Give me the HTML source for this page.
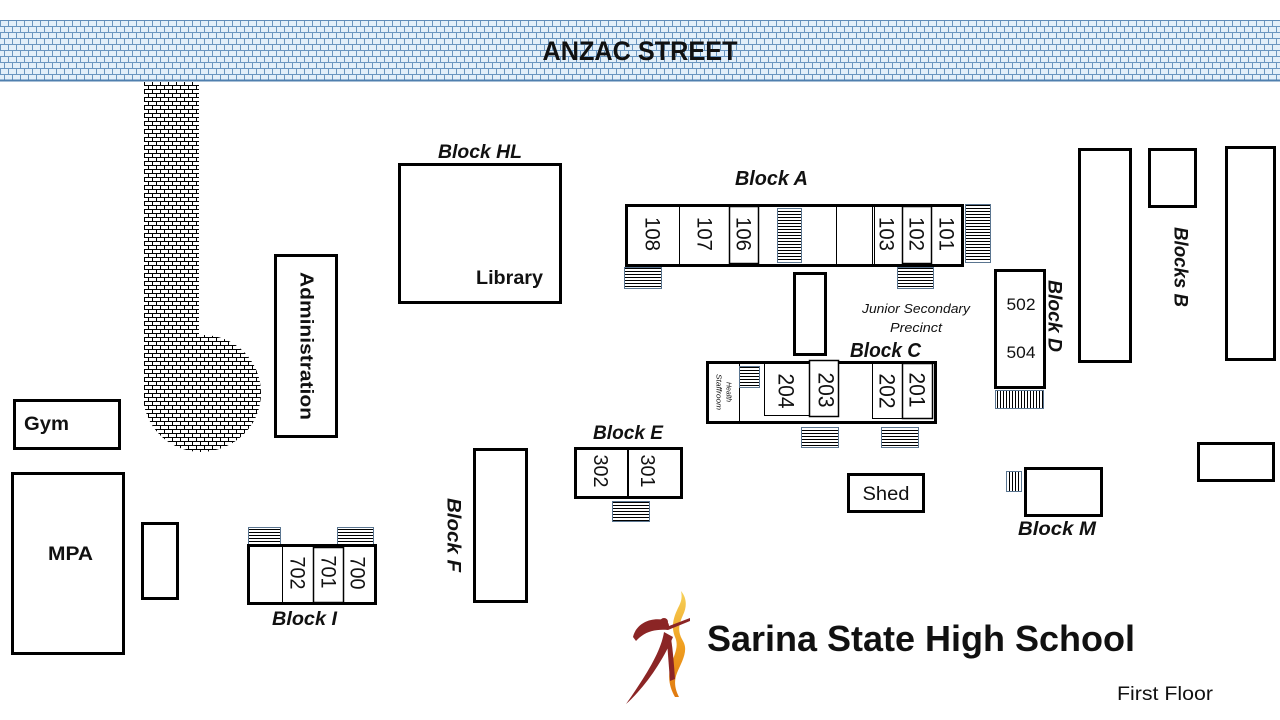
<!DOCTYPE html>
<html><head><meta charset="utf-8"><style>
html,body{margin:0;padding:0;background:#fff;}
svg{display:block;}
text{font-family:"Liberation Sans",sans-serif;fill:#111;}
.bi{font-weight:bold;font-style:italic;}
.b{font-weight:bold;}
</style></head><body>
<svg width="1280" height="720" viewBox="0 0 1280 720" xmlns="http://www.w3.org/2000/svg">
<defs>
<pattern id="street" width="8" height="12" patternUnits="userSpaceOnUse" y="20">
<rect width="8" height="12" fill="#e2eff9"/>
<line x1="0" y1="0.5" x2="8" y2="0.5" stroke="#6a96c0" stroke-width="1"/>
<line x1="0" y1="6.5" x2="8" y2="6.5" stroke="#6a96c0" stroke-width="1"/>
<line x1="0.5" y1="0" x2="0.5" y2="6" stroke="#6a96c0" stroke-width="1"/>
<line x1="4.5" y1="6" x2="4.5" y2="12" stroke="#6a96c0" stroke-width="1"/>
</pattern>
<pattern id="path" width="8" height="8" patternUnits="userSpaceOnUse" x="144" y="81">
<rect width="8" height="8" fill="#fff"/>
<line x1="0" y1="0.5" x2="8" y2="0.5" stroke="#000" stroke-width="1"/>
<line x1="0" y1="4.5" x2="8" y2="4.5" stroke="#000" stroke-width="1"/>
<line x1="0.5" y1="0" x2="0.5" y2="4" stroke="#000" stroke-width="1"/>
<line x1="4.5" y1="4" x2="4.5" y2="8" stroke="#000" stroke-width="1"/>
</pattern>
<pattern id="hs" width="4" height="3" patternUnits="userSpaceOnUse">
<rect width="4" height="3" fill="#fff"/>
<line x1="0" y1="1.5" x2="4" y2="1.5" stroke="#000" stroke-width="1"/>
</pattern>
<pattern id="vs" width="3" height="4" patternUnits="userSpaceOnUse">
<rect width="3" height="4" fill="#fff"/>
<line x1="1.5" y1="0" x2="1.5" y2="4" stroke="#000" stroke-width="1"/>
</pattern>
<linearGradient id="flame" x1="0" y1="0" x2="0" y2="1">
<stop offset="0" stop-color="#f6d25a"/>
<stop offset="0.5" stop-color="#f0a020"/>
<stop offset="1" stop-color="#e07a10"/>
</linearGradient>
</defs>

<!-- Street -->
<rect x="0" y="20" width="1280" height="61" fill="url(#street)"/>
<line x1="0" y1="20.5" x2="1280" y2="20.5" stroke="#5f8cb8" stroke-width="1"/>
<line x1="0" y1="80.5" x2="1280" y2="80.5" stroke="#4f7fae" stroke-width="2"/>
<text x="640" y="60" class="b" font-size="27" text-anchor="middle" textLength="195" lengthAdjust="spacingAndGlyphs">ANZAC STREET</text>

<!-- Driveway path -->
<path d="M144,82 L199,82 L199,336 A58,58 0 1 1 144,405 Z" fill="url(#path)"/>
<circle cx="203" cy="393" r="58" fill="url(#path)"/>
<rect x="144" y="82" width="55" height="320" fill="url(#path)"/>

<!-- Gym / MPA -->
<rect x="14.5" y="400.5" width="105" height="48" fill="#fff" stroke="#000" stroke-width="3"/>
<text x="24" y="430" class="b" font-size="19" textLength="45" lengthAdjust="spacingAndGlyphs">Gym</text>
<rect x="12.5" y="473.5" width="111" height="180" fill="#fff" stroke="#000" stroke-width="3"/>
<text x="48" y="560" class="b" font-size="19" textLength="45" lengthAdjust="spacingAndGlyphs">MPA</text>
<rect x="142.5" y="523.5" width="35" height="75" fill="#fff" stroke="#000" stroke-width="3"/>

<!-- Administration -->
<rect x="275.5" y="255.5" width="61" height="181" fill="#fff" stroke="#000" stroke-width="3"/>
<text transform="translate(307,346) rotate(90)" dy="0.35em" class="b" font-size="18" text-anchor="middle" textLength="148" lengthAdjust="spacingAndGlyphs">Administration</text>

<!-- Block HL -->
<text x="438" y="158" class="bi" font-size="19" textLength="84" lengthAdjust="spacingAndGlyphs">Block HL</text>
<rect x="399.5" y="164.5" width="161" height="138" fill="#fff" stroke="#000" stroke-width="3"/>
<text x="476" y="284" class="b" font-size="19" textLength="67" lengthAdjust="spacingAndGlyphs">Library</text>

<!-- Block A -->
<text x="735" y="185" class="bi" font-size="20" textLength="73" lengthAdjust="spacingAndGlyphs">Block A</text>
<rect x="626.5" y="205.5" width="336" height="60" fill="#fff" stroke="#000" stroke-width="3"/>
<line x1="679.5" y1="207" x2="679.5" y2="264" stroke="#000" stroke-width="1"/>
<rect x="729.5" y="206.5" width="29" height="57" fill="none" stroke="#000" stroke-width="1.5"/>
<rect x="777.5" y="208.5" width="24" height="54" fill="url(#hs)" stroke="#5a7590" stroke-width="1"/>
<line x1="836.5" y1="207" x2="836.5" y2="264" stroke="#000" stroke-width="1"/>
<line x1="872.5" y1="207" x2="872.5" y2="264" stroke="#000" stroke-width="1"/>
<line x1="874.5" y1="207" x2="874.5" y2="264" stroke="#000" stroke-width="1"/>
<rect x="902.5" y="206.5" width="29" height="57" fill="none" stroke="#000" stroke-width="1.5"/>
<g font-size="21" text-anchor="middle">
<text transform="translate(653,234) rotate(90)" dy="0.35em" textLength="34" lengthAdjust="spacingAndGlyphs">108</text>
<text transform="translate(705,234) rotate(90)" dy="0.35em" textLength="34" lengthAdjust="spacingAndGlyphs">107</text>
<text transform="translate(744,234) rotate(90)" dy="0.35em" textLength="34" lengthAdjust="spacingAndGlyphs">106</text>
<text transform="translate(887,234) rotate(90)" dy="0.35em" textLength="34" lengthAdjust="spacingAndGlyphs">103</text>
<text transform="translate(917,234) rotate(90)" dy="0.35em" textLength="34" lengthAdjust="spacingAndGlyphs">102</text>
<text transform="translate(947,234) rotate(90)" dy="0.35em" textLength="34" lengthAdjust="spacingAndGlyphs">101</text>
</g>
<rect x="965.5" y="204.5" width="25" height="58" fill="url(#hs)" stroke="#5a7590" stroke-width="1"/>
<rect x="624.5" y="267.5" width="37" height="21" fill="url(#hs)" stroke="#5a7590" stroke-width="1"/>
<rect x="897.5" y="267.5" width="36" height="21" fill="url(#hs)" stroke="#5a7590" stroke-width="1"/>

<!-- small rect between A and C -->
<rect x="794.5" y="273.5" width="31" height="81" fill="#fff" stroke="#000" stroke-width="3"/>

<!-- Junior Secondary -->
<text x="916" y="313" font-size="13" font-style="italic" text-anchor="middle" textLength="108" lengthAdjust="spacingAndGlyphs">Junior Secondary</text>
<text x="916" y="332" font-size="13" font-style="italic" text-anchor="middle" textLength="52" lengthAdjust="spacingAndGlyphs">Precinct</text>

<!-- Block C -->
<text x="850" y="357" class="bi" font-size="20" textLength="71" lengthAdjust="spacingAndGlyphs">Block C</text>
<rect x="707.5" y="362.5" width="228" height="60" fill="#fff" stroke="#000" stroke-width="3"/>
<line x1="739.5" y1="364" x2="739.5" y2="421" stroke="#000" stroke-width="1"/>
<rect x="739.5" y="366.5" width="20" height="21" fill="url(#hs)" stroke="#5a7590" stroke-width="1"/>
<rect x="764.5" y="363.5" width="45" height="52" fill="none" stroke="#000" stroke-width="1"/>
<rect x="809.5" y="360.5" width="29" height="56" fill="#fff" stroke="#000" stroke-width="1.5"/>
<rect x="872.5" y="363.5" width="30" height="55" fill="none" stroke="#000" stroke-width="1"/>
<rect x="902.5" y="363.5" width="30" height="55" fill="none" stroke="#000" stroke-width="1.5"/>
<g font-size="22" text-anchor="middle">
<text transform="translate(786,391) rotate(90)" dy="0.35em" textLength="35" lengthAdjust="spacingAndGlyphs">204</text>
<text transform="translate(826,390) rotate(90)" dy="0.35em" textLength="35" lengthAdjust="spacingAndGlyphs">203</text>
<text transform="translate(887,391) rotate(90)" dy="0.35em" textLength="35" lengthAdjust="spacingAndGlyphs">202</text>
<text transform="translate(917,390) rotate(90)" dy="0.35em" textLength="35" lengthAdjust="spacingAndGlyphs">201</text>
</g>
<g font-size="7" font-style="italic" text-anchor="middle">
<text transform="translate(729,392) rotate(90)" dy="0.35em" textLength="20" lengthAdjust="spacingAndGlyphs">Health</text>
<text transform="translate(719,392) rotate(90)" dy="0.35em" textLength="36" lengthAdjust="spacingAndGlyphs">Staffroom</text>
</g>
<rect x="801.5" y="427.5" width="37" height="20" fill="url(#hs)" stroke="#5a7590" stroke-width="1"/>
<rect x="881.5" y="427.5" width="37" height="20" fill="url(#hs)" stroke="#5a7590" stroke-width="1"/>

<!-- Block D -->
<rect x="995.5" y="270.5" width="49" height="117" fill="#fff" stroke="#000" stroke-width="3"/>
<text x="1021" y="310" font-size="17" text-anchor="middle" textLength="29" lengthAdjust="spacingAndGlyphs">502</text>
<text x="1021" y="358" font-size="17" text-anchor="middle" textLength="29" lengthAdjust="spacingAndGlyphs">504</text>
<text transform="translate(1055,316) rotate(90)" dy="0.35em" class="bi" font-size="19" text-anchor="middle" textLength="72" lengthAdjust="spacingAndGlyphs">Block D</text>
<rect x="995.5" y="390.5" width="48" height="18" fill="url(#vs)" stroke="#5a7590" stroke-width="1"/>

<!-- Blocks B -->
<rect x="1079.5" y="149.5" width="51" height="212" fill="#fff" stroke="#000" stroke-width="3"/>
<rect x="1149.5" y="149.5" width="46" height="57" fill="#fff" stroke="#000" stroke-width="3"/>
<rect x="1226.5" y="147.5" width="48" height="212" fill="#fff" stroke="#000" stroke-width="3"/>
<text transform="translate(1181,267) rotate(90)" dy="0.35em" class="bi" font-size="19" text-anchor="middle" textLength="80" lengthAdjust="spacingAndGlyphs">Blocks B</text>
<rect x="1198.5" y="443.5" width="75" height="37" fill="#fff" stroke="#000" stroke-width="3"/>

<!-- Shed -->
<rect x="848.5" y="474.5" width="75" height="37" fill="#fff" stroke="#000" stroke-width="3"/>
<text x="886" y="500" font-size="19" text-anchor="middle" textLength="47" lengthAdjust="spacingAndGlyphs">Shed</text>

<!-- Block M -->
<rect x="1006.5" y="471.5" width="15" height="20" fill="url(#vs)" stroke="#5a7590" stroke-width="1"/>
<rect x="1025.5" y="468.5" width="76" height="47" fill="#fff" stroke="#000" stroke-width="3"/>
<text x="1018" y="535" class="bi" font-size="19" textLength="78" lengthAdjust="spacingAndGlyphs">Block M</text>

<!-- Block E -->
<text x="593" y="439" class="bi" font-size="19" textLength="70" lengthAdjust="spacingAndGlyphs">Block E</text>
<rect x="575.5" y="448.5" width="106" height="49" fill="#fff" stroke="#000" stroke-width="3"/>
<line x1="628" y1="449" x2="628" y2="497" stroke="#000" stroke-width="2"/>
<g font-size="20" text-anchor="middle">
<text transform="translate(601,471) rotate(90)" dy="0.35em" textLength="33" lengthAdjust="spacingAndGlyphs">302</text>
<text transform="translate(648,471) rotate(90)" dy="0.35em" textLength="33" lengthAdjust="spacingAndGlyphs">301</text>
</g>
<rect x="612.5" y="501.5" width="37" height="20" fill="url(#hs)" stroke="#5a7590" stroke-width="1"/>

<!-- Block F -->
<rect x="474.5" y="449.5" width="52" height="152" fill="#fff" stroke="#000" stroke-width="3"/>
<text transform="translate(454,535) rotate(90)" dy="0.35em" class="bi" font-size="19" text-anchor="middle" textLength="74" lengthAdjust="spacingAndGlyphs">Block F</text>

<!-- Block I -->
<rect x="248.5" y="527.5" width="32" height="17" fill="url(#hs)" stroke="#5a7590" stroke-width="1"/>
<rect x="337.5" y="527.5" width="36" height="19" fill="url(#hs)" stroke="#5a7590" stroke-width="1"/>
<rect x="248.5" y="545.5" width="127" height="58" fill="#fff" stroke="#000" stroke-width="3"/>
<rect x="282.5" y="546.5" width="31" height="56" fill="none" stroke="#000" stroke-width="1"/>
<rect x="313.5" y="547.5" width="30" height="55" fill="none" stroke="#000" stroke-width="1.5"/>
<g font-size="21" text-anchor="middle">
<text transform="translate(298,573) rotate(90)" dy="0.35em" textLength="33" lengthAdjust="spacingAndGlyphs">702</text>
<text transform="translate(329,572) rotate(90)" dy="0.35em" textLength="33" lengthAdjust="spacingAndGlyphs">701</text>
<text transform="translate(358,573) rotate(90)" dy="0.35em" textLength="33" lengthAdjust="spacingAndGlyphs">700</text>
</g>
<text x="272" y="625" class="bi" font-size="19" textLength="65" lengthAdjust="spacingAndGlyphs">Block I</text>

<!-- Logo -->
<path d="M681,591 C687,598 687,607 683,615 C679,624 677,631 683,641 C689,651 681,663 677,673 C673,683 676,691 679,697 L675,697 C670,688 667,678 671,665 C675,653 679,646 675,637 C670,625 675,614 679,606 C682,600 682,596 681,591 Z" fill="url(#flame)"/>
<path d="M633,637 C636,624 650,617 664,620 C667,621 669,623 669,626 L690,618 L690,621 L668,630 C656,629 645,631 636,641 Z" fill="#8b2525"/>
<circle cx="664" cy="622" r="4" fill="#8b2525"/>
<path d="M664,632 C661,652 645,677 626,704 C642,690 661,665 673,637 Z" fill="#8b2525"/>
<path d="M667,641 C668,655 669,668 670,681 L675,679 C674,665 673,651 671,638 Z" fill="#8b2525"/>

<text x="707" y="651" class="b" font-size="36" textLength="428" lengthAdjust="spacingAndGlyphs">Sarina State High School</text>
<text x="1117" y="700" font-size="19" textLength="96" lengthAdjust="spacingAndGlyphs">First Floor</text>
</svg>
</body></html>
